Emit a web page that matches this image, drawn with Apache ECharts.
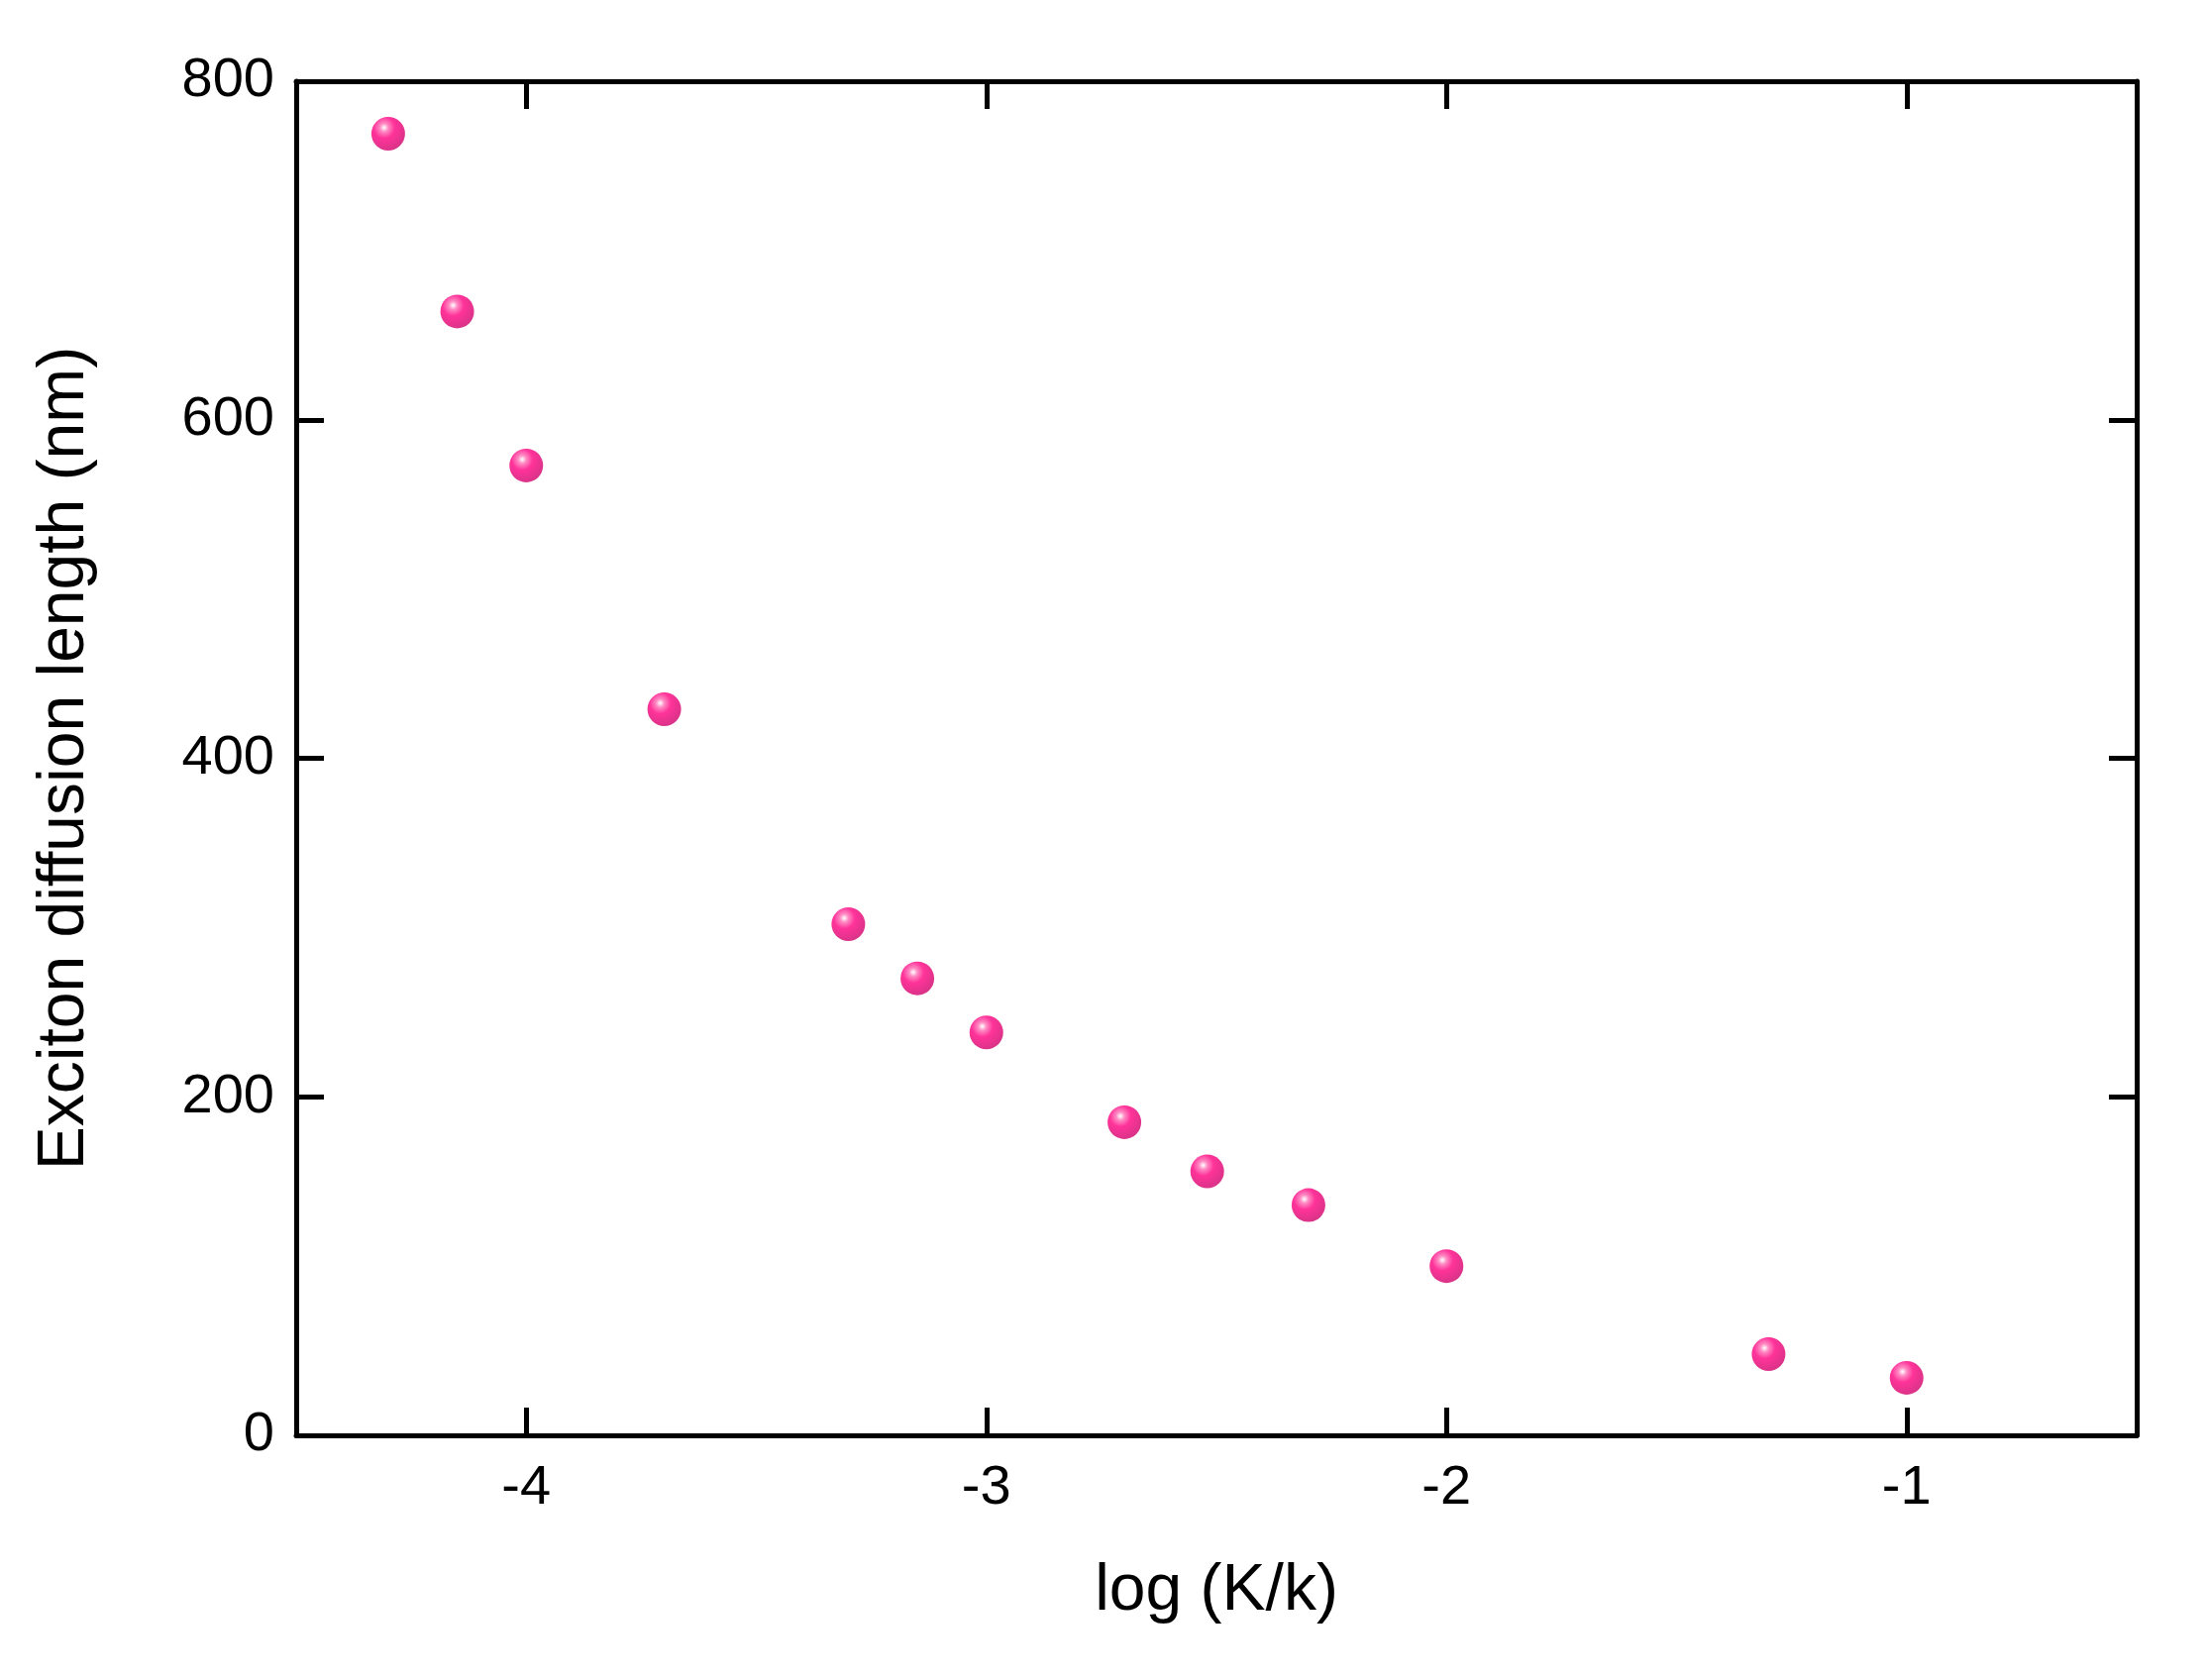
<!DOCTYPE html>
<html>
<head>
<meta charset="utf-8">
<script src="https://cdn.jsdelivr.net/npm/echarts@6/dist/echarts.min.js"></script>
<style>html,body{margin:0;padding:0;background:#fff}#chart{width:2228px;height:1696px}</style>
</head>
<body>
<div id="chart"></div>
<script>
// log (K/k) values and diffusion lengths
const logRatio = [-4.30, -4.15, -4.00, -3.70, -3.30, -3.15, -3.00, -2.70, -2.52, -2.30, -2.00, -1.30, -1.00];
const diffLength = [769, 664, 573, 429, 302, 270, 238, 185, 156, 136, 100, 48, 34];
const xTicks = [-4, -3, -2, -1];

const chart = echarts.init(document.getElementById('chart'));
const font = 'Liberation Sans, Arial, sans-serif';
const axisLine = {show: true, onZero: false, lineStyle: {color: '#000', width: 5}};
const tick = {show: true, inside: true, length: 28, lineStyle: {color: '#000', width: 5}};
const xTick = Object.assign({}, tick, {customValues: xTicks});

const ball = {
    type: 'radial', x: 0.38, y: 0.32, r: 0.7,
    colorStops: [
        {offset: 0, color: '#ffffff'},
        {offset: 0.18, color: '#ff6cb4'},
        {offset: 0.45, color: '#ff0080'},
        {offset: 1, color: '#d0006a'}
    ]
};

chart.setOption({
    animation: false,
    grid: {left: 299, right: 71, top: 82, bottom: 247},
    xAxis: [{
        type: 'value', min: -4.5, max: -0.5, interval: 0.5,
        name: 'log (K/k)', nameLocation: 'middle', nameGap: 125,
        nameTextStyle: {fontFamily: font, fontSize: 66, color: '#000'},
        axisLine, axisTick: xTick, splitLine: {show: false},
        axisLabel: {fontFamily: font, fontSize: 56, color: '#000', margin: 26,
            customValues: xTicks}
    }, {
        type: 'value', position: 'top', min: -4.5, max: -0.5, interval: 0.5,
        axisLine, axisTick: xTick, axisLabel: {show: false}, splitLine: {show: false}
    }],
    yAxis: [{
        type: 'value', min: 0, max: 800, interval: 200,
        name: 'Exciton diffusion length (nm)', nameLocation: 'middle', nameGap: 200,
        nameTextStyle: {fontFamily: font, fontSize: 66, color: '#000'},
        axisLine, axisTick: tick, splitLine: {show: false},
        axisLabel: {fontFamily: font, fontSize: 56, color: '#000', margin: 22}
    }, {
        type: 'value', position: 'right', min: 0, max: 800, interval: 200,
        axisLine, axisTick: tick, axisLabel: {show: false}, splitLine: {show: false}
    }],
    series: [{
        type: 'scatter',
        data: logRatio.map((x, i) => [x, diffLength[i]]),
        symbolSize: 34,
        itemStyle: {color: ball}
    }]
});
</script>
</body>
</html>
